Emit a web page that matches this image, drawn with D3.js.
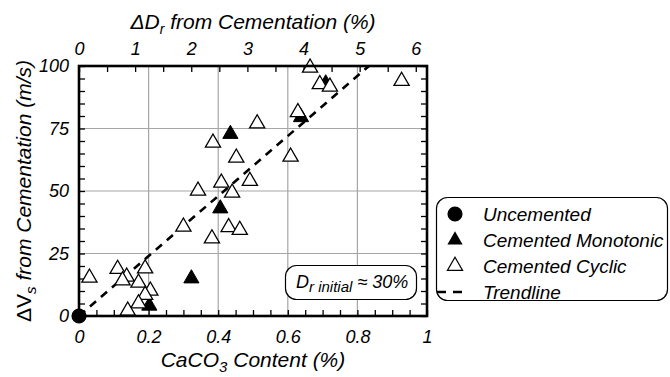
<!DOCTYPE html>
<html>
<head>
<meta charset="utf-8">
<title>Vs vs CaCO3</title>
<script src="https://cdn.jsdelivr.net/npm/d3@7"></script>
<style>
  body { margin: 0; background: #fff; }
  text { font-family: "Liberation Sans", Arial, sans-serif; font-style: italic; fill: #000; }
</style>
</head>
<body>
<div id="chart"></div>
<script>
// CaCO3 content (%) and dVs (m/s)
var uncemX = [0];
var uncemY = [0];
var monoX = [0.202, 0.323, 0.406, 0.435, 0.638, 0.709];
var monoY = [4.1, 15, 43, 72.8, 79.5, 93];
var cycX = [0.030, 0.111, 0.137, 0.125, 0.190, 0.171, 0.205, 0.190, 0.171, 0.140,
            0.300, 0.342, 0.382, 0.409, 0.430, 0.440, 0.462, 0.491, 0.385, 0.452,
            0.512, 0.608, 0.629, 0.664, 0.692, 0.721, 0.927];
var cycY = [15.3, 18.8, 15.7, 14.2, 19.0, 13.3, 10.1, 8.4, 5.0, 2.1,
            35.7, 50.1, 31.0, 53.3, 35.5, 49.3, 34.4, 54.0, 69.3, 63.3,
            77.0, 63.7, 81.5, 99.3, 92.7, 91.7, 94.0];
var trendX = [0, 0.8333];
var trendY = [0, 100];
var bottomTicks = [0, 0.2, 0.4, 0.6, 0.8, 1];
var topTicks = [0, 1, 2, 3, 4, 5, 6];
var leftTicks = [0, 25, 50, 75, 100];
var legendItems = ["Uncemented", "Cemented Monotonic", "Cemented Cyclic", "Trendline"];

var W = 670, H = 377;
var svg = d3.select("#chart").append("svg").attr("width", W).attr("height", H);
svg.append("rect").attr("width", W).attr("height", H).attr("fill", "#fff");

var x = d3.scaleLinear().domain([0, 1]).range([79, 427]);
var xTop = d3.scaleLinear().domain([0, 6.2]).range([79, 427]);
var y = d3.scaleLinear().domain([0, 100]).range([316, 66]);

// grid
var g = svg.append("g");
g.selectAll(".gx").data([0.2, 0.4, 0.6, 0.8]).enter().append("line")
  .attr("x1", d => x(d)).attr("x2", d => x(d)).attr("y1", y(0)).attr("y2", y(100))
  .attr("stroke", "#a6a6a6").attr("stroke-width", 1.2);
g.selectAll(".gy").data([25, 50, 75]).enter().append("line")
  .attr("y1", d => y(d)).attr("y2", d => y(d)).attr("x1", x(0)).attr("x2", x(1))
  .attr("stroke", "#a6a6a6").attr("stroke-width", 1.2);

// inward minor ticks
function ticksOnly(axis, tr) {
  var a = svg.append("g").attr("transform", tr).call(axis);
  a.select(".domain").remove();
  a.selectAll("text").remove();
  a.selectAll("line").attr("stroke", "#000").attr("stroke-width", 1.3);
}
ticksOnly(d3.axisBottom(x).tickValues(d3.range(0, 1.0001, 0.05)).tickSize(-6), "translate(0," + y(0) + ")");
ticksOnly(d3.axisTop(xTop).tickValues(d3.range(0, 6.2, 0.5)).tickSize(-6), "translate(0," + y(100) + ")");
ticksOnly(d3.axisLeft(y).tickValues(d3.range(0, 100.01, 5)).tickSize(-6), "translate(" + x(0) + ",0)");
ticksOnly(d3.axisRight(y).tickValues(d3.range(0, 100.01, 5)).tickSize(-6), "translate(" + x(1) + ",0)");

// labels
function labelsOnly(axis, tr) {
  var a = svg.append("g").attr("transform", tr).call(axis);
  a.select(".domain").remove();
  a.selectAll("line").remove();
  a.selectAll("text").style("font-size", "18px");
  a.attr("font-family", null).attr("font-size", null);
}
labelsOnly(d3.axisBottom(x).tickValues(bottomTicks).tickSize(0).tickPadding(14).tickFormat(d => d), "translate(0," + y(0) + ")");
labelsOnly(d3.axisTop(xTop).tickValues(topTicks).tickSize(0).tickPadding(11).tickFormat(d => d), "translate(0," + y(100) + ")");
labelsOnly(d3.axisLeft(y).tickValues(leftTicks).tickSize(0).tickPadding(10).tickFormat(d => d), "translate(" + x(0) + ",0)");

// trendline
var line = d3.line().x(d => x(d[0])).y(d => y(d[1]));
svg.append("path").datum(d3.zip(trendX, trendY)).attr("d", line)
  .attr("fill", "none").attr("stroke", "#000").attr("stroke-width", 2.6)
  .attr("stroke-dasharray", "8,6.5");

// points
var tri = d3.symbol().type(d3.symbolTriangle).size(100);
var circ = d3.symbol().type(d3.symbolCircle).size(180);
svg.append("g").selectAll("path").data(d3.zip(monoX, monoY)).enter().append("path")
  .attr("d", tri).attr("transform", d => "translate(" + x(d[0]) + "," + y(d[1]) + ")")
  .attr("fill", "#000").attr("stroke", "#000").attr("stroke-width", 1);
svg.append("g").selectAll("path").data(d3.zip(cycX, cycY)).enter().append("path")
  .attr("d", tri).attr("transform", d => "translate(" + x(d[0]) + "," + y(d[1]) + ")")
  .attr("fill", "#fff").attr("stroke", "#000").attr("stroke-width", 1.3);

// frame
svg.append("rect").attr("x", x(0)).attr("y", y(100)).attr("width", x(1) - x(0)).attr("height", y(0) - y(100))
  .attr("fill", "none").attr("stroke", "#000").attr("stroke-width", 2.6);

svg.append("g").selectAll("path").data(d3.zip(uncemX, uncemY)).enter().append("path")
  .attr("d", circ).attr("transform", d => "translate(" + x(d[0]) + "," + y(d[1]) + ")")
  .attr("fill", "#000");

// axis titles
var tt = svg.append("text").attr("x", 253).attr("y", 29).attr("text-anchor", "middle").style("font-size", "21px");
tt.append("tspan").text("\u0394D");
tt.append("tspan").text("r").style("font-size", "14px").attr("dy", 5);
tt.append("tspan").text(" from Cementation (%)").attr("dy", -5);

var bt = svg.append("text").attr("x", 253).attr("y", 367).attr("text-anchor", "middle").style("font-size", "21px");
bt.append("tspan").text("CaCO");
bt.append("tspan").text("3").style("font-size", "15px").attr("dy", 5);
bt.append("tspan").text(" Content (%)").attr("dy", -5);

var lt = svg.append("text").attr("transform", "translate(31,191) rotate(-90)").attr("text-anchor", "middle").style("font-size", "21px");
lt.append("tspan").text("\u0394V").style("font-style", "normal");
lt.append("tspan").text("s").style("font-size", "15px").attr("dy", 5);
lt.append("tspan").text(" from Cementation (m/s)").attr("dy", -5);

// annotation box
svg.append("rect").attr("x", 285.5).attr("y", 265.5).attr("width", 131).attr("height", 34).attr("rx", 11)
  .attr("fill", "#fff").attr("stroke", "#000").attr("stroke-width", 1.2);
var an = svg.append("text").attr("x", 296).attr("y", 288).style("font-size", "18px");
an.append("tspan").text("D");
an.append("tspan").text("r initial").style("font-size", "15px").attr("dy", 4);
an.append("tspan").text(" \u2248 30%").attr("dy", -4);

// legend
var lg = svg.append("g");
lg.append("rect").attr("x", 436.5).attr("y", 197.5).attr("width", 231).attr("height", 103).attr("rx", 11)
  .attr("fill", "#fff").attr("stroke", "#000").attr("stroke-width", 1.2);
var rowY = d3.scalePoint().domain(legendItems).range([214, 292]);
lg.selectAll(".lt").data(legendItems).enter().append("text")
  .attr("x", 483).attr("y", d => rowY(d) + 7).style("font-size", "19px").text(d => d);
lg.append("path").attr("d", circ).attr("transform", "translate(455," + rowY(legendItems[0]) + ")").attr("fill", "#000");
lg.append("path").attr("d", tri).attr("transform", "translate(455," + rowY(legendItems[1]) + ")").attr("fill", "#000");
lg.append("path").attr("d", tri).attr("transform", "translate(455," + rowY(legendItems[2]) + ")")
  .attr("fill", "#fff").attr("stroke", "#000").attr("stroke-width", 1.2);
lg.append("line").attr("x1", 437).attr("x2", 463).attr("y1", rowY(legendItems[3])).attr("y2", rowY(legendItems[3]))
  .attr("stroke", "#000").attr("stroke-width", 2.6).attr("stroke-dasharray", "9,7");
</script>
</body>
</html>
